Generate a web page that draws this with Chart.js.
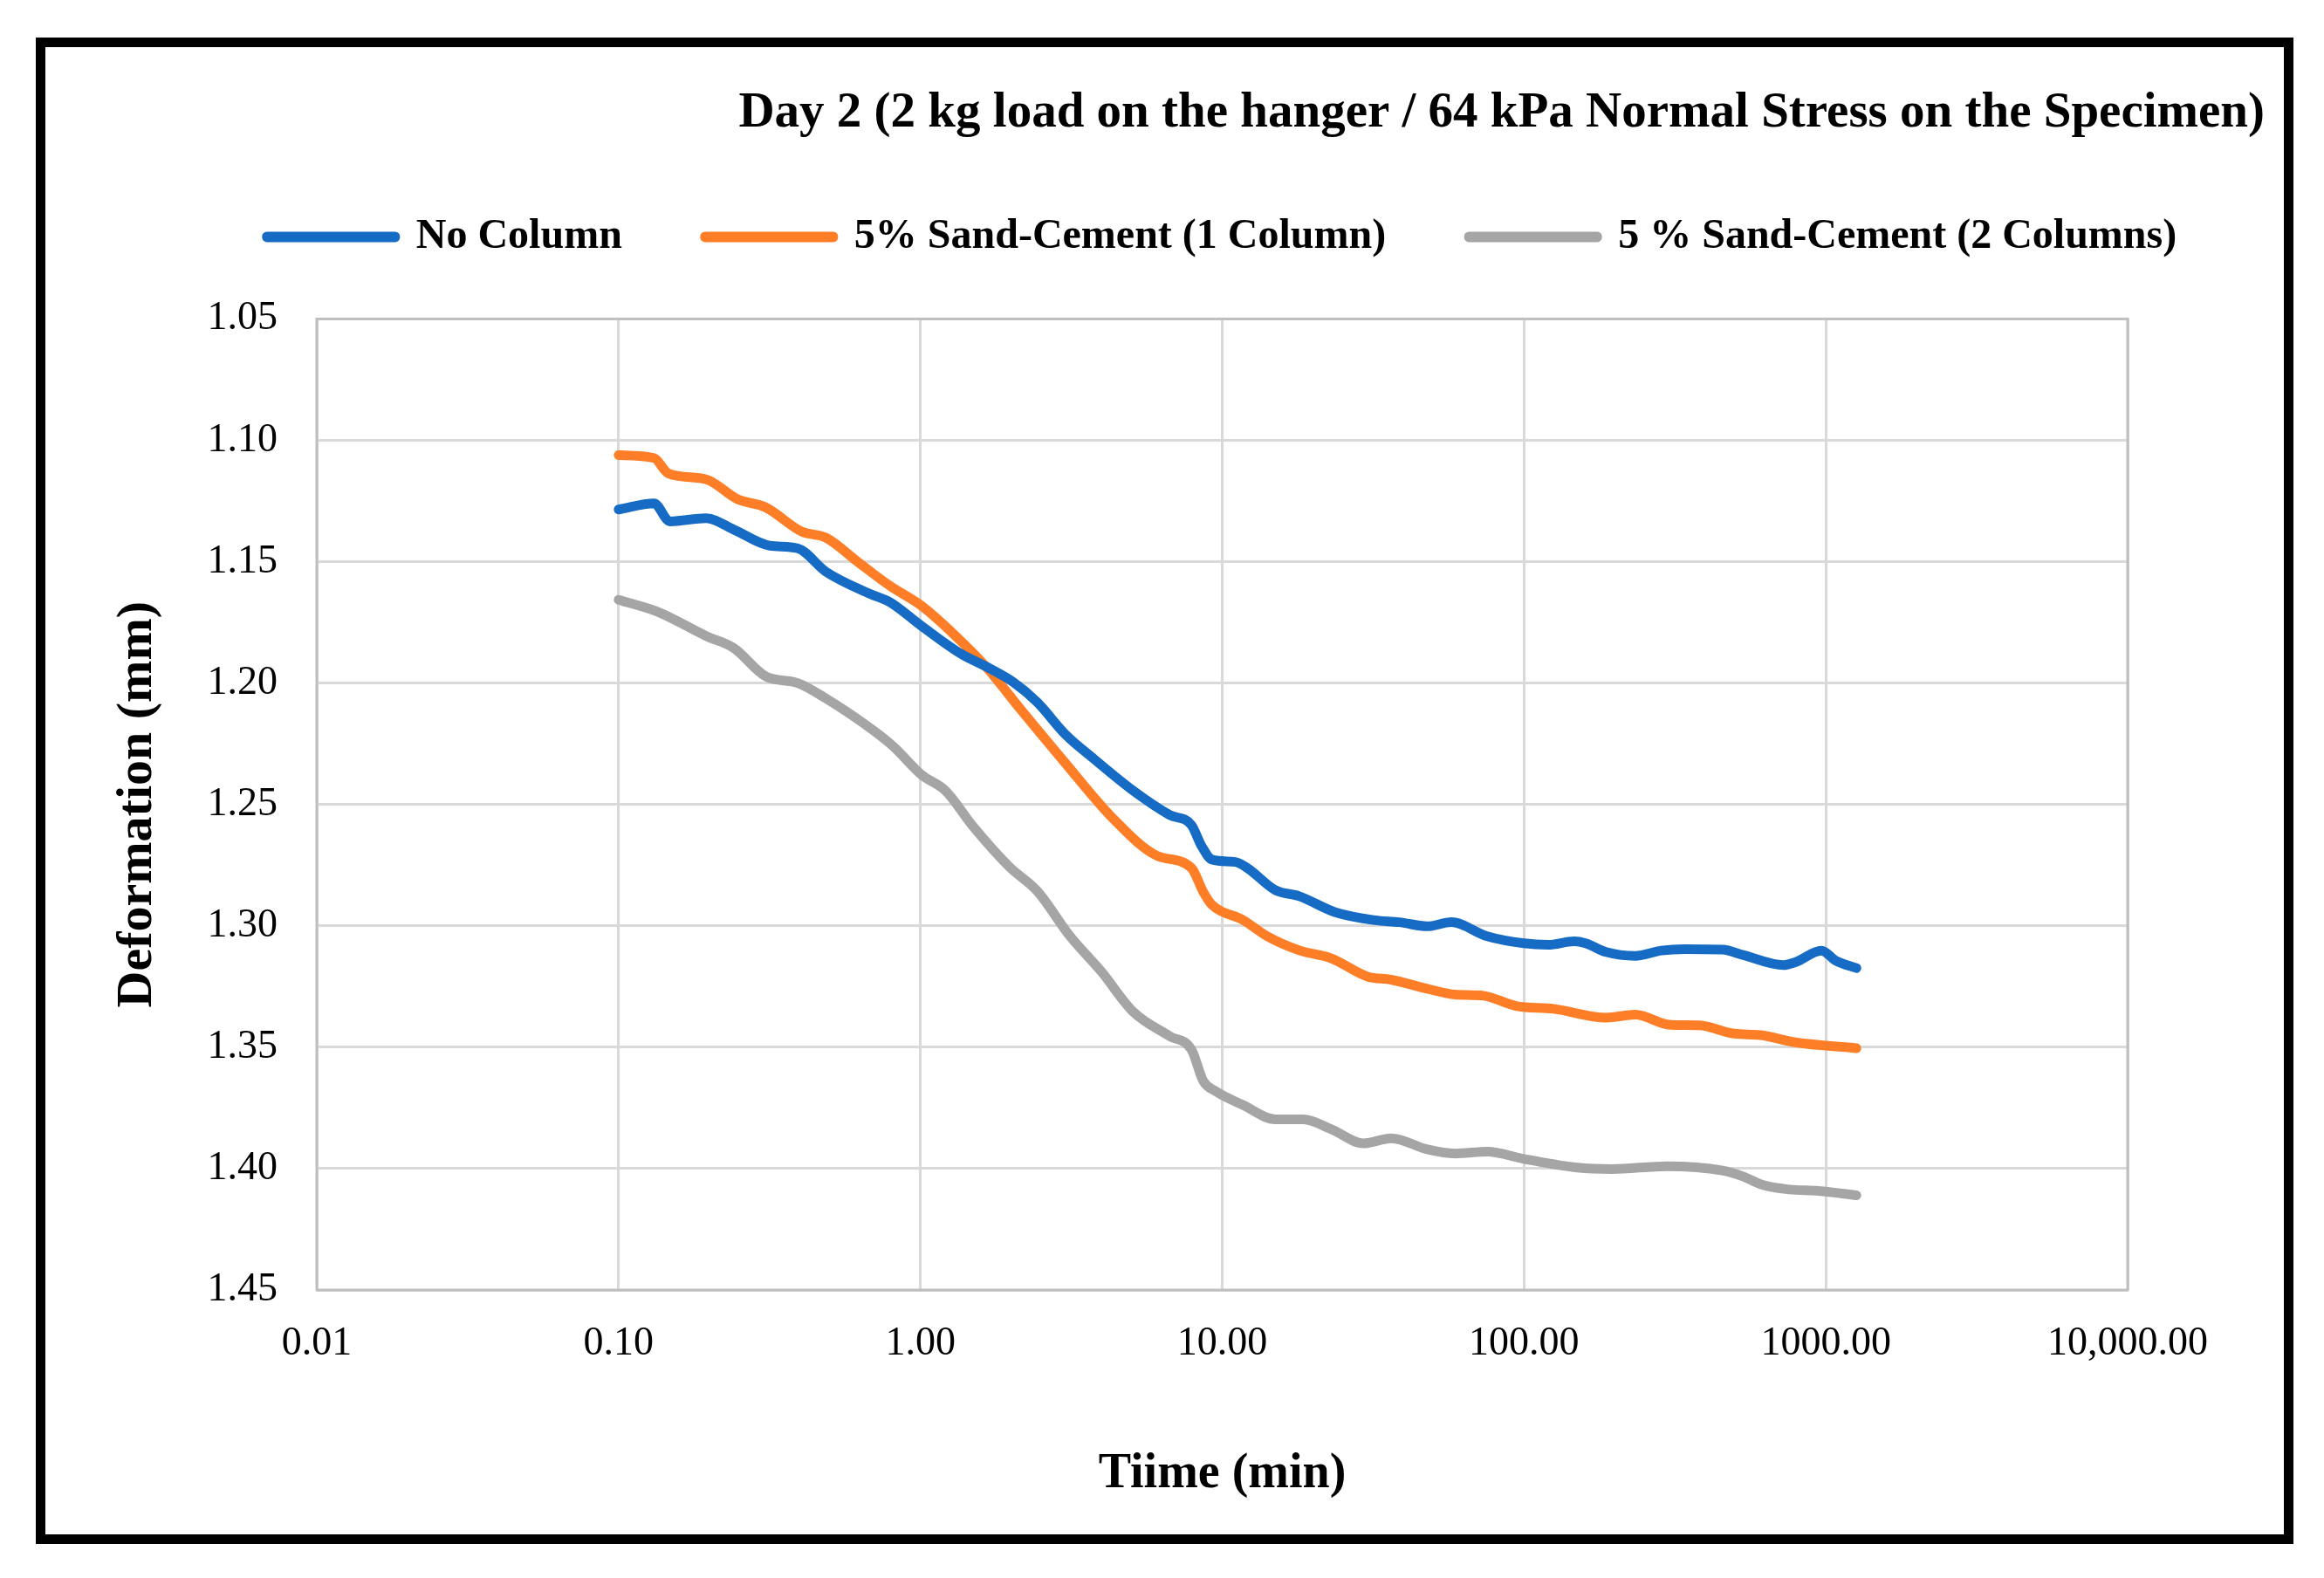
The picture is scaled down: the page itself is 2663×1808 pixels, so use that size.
<!DOCTYPE html>
<html>
<head>
<meta charset="utf-8">
<script src="https://cdn.jsdelivr.net/npm/chart.js@4.4.1/dist/chart.umd.min.js"></script>
<style>
  html, body { margin: 0; padding: 0; background: #fff; }
  #wrap { width: 2663px; height: 1808px; }
</style>
</head>
<body>
<div id="wrap"><canvas id="chart"></canvas></div>
<script>
// Số liệu (thời gian tính bằng phút, biến dạng tính bằng mm)
const noColumnTime = [0.1, 0.131, 0.148, 0.195, 0.241, 0.317, 0.392, 0.486, 0.679, 0.791, 1.009, 1.369, 1.644, 2.035, 2.443, 3.026, 3.746, 5.08, 6.688, 7.91, 8.53, 9.25, 11.06, 12.12, 15.0, 18.0, 23.7, 32.1, 38.6, 47.8, 57.4, 75.5, 100, 120, 146.5, 160, 187, 233.5, 285, 340, 454.5, 531, 724.5, 792, 967, 1081, 1263];
const noColumnDef = [1.1285, 1.1260, 1.1334, 1.1321, 1.1368, 1.1434, 1.1445, 1.1541, 1.1632, 1.1666, 1.1765, 1.1881, 1.1931, 1.1997, 1.2080, 1.2212, 1.2311, 1.2444, 1.2543, 1.2585, 1.2670, 1.2727, 1.2737, 1.2762, 1.2853, 1.2878, 1.2944, 1.2977, 1.2985, 1.3002, 1.2985, 1.3043, 1.3072, 1.3078, 1.3064, 1.3072, 1.3108, 1.3124, 1.3102, 1.3096, 1.3098, 1.3120, 1.3162, 1.3150, 1.3102, 1.3144, 1.3174];

const oneColumnTime = [0.1, 0.131, 0.146, 0.195, 0.248, 0.307, 0.404, 0.486, 0.619, 0.791, 1.009, 1.288, 1.644, 2.163, 2.935, 4.362, 6.05, 7.91, 8.66, 9.21, 11.75, 14.1, 18.0, 23.0, 30.3, 36.3, 47.8, 59.2, 73.3, 94, 125.4, 187, 233.5, 305, 380, 497, 607, 792, 1263];
const oneColumnDef = [1.1061, 1.1073, 1.1136, 1.1161, 1.1243, 1.1276, 1.1376, 1.1401, 1.1500, 1.1599, 1.1682, 1.1798, 1.1931, 1.2113, 1.2311, 1.2560, 1.2710, 1.2762, 1.2861, 1.2911, 1.2977, 1.3043, 1.3101, 1.3134, 1.3209, 1.3222, 1.3259, 1.3283, 1.3288, 1.3330, 1.3342, 1.3378, 1.3366, 1.3408, 1.3410, 1.3444, 1.3450, 1.3480, 1.3504];

const twoColumnTime = [0.1, 0.135, 0.195, 0.241, 0.307, 0.392, 0.486, 0.7, 0.815, 1.009, 1.212, 1.5, 1.974, 2.443, 3.119, 3.98, 5.08, 6.688, 7.91, 8.66, 9.5, 11.75, 15.0, 18.6, 23.0, 29.35, 36.3, 47.8, 59.2, 75.5, 100, 150, 195.4, 298, 454.5, 531, 620, 758, 946, 1263];
const twoColumnDef = [1.1657, 1.1707, 1.1806, 1.1856, 1.1972, 1.2000, 1.2063, 1.2196, 1.2262, 1.2378, 1.2444, 1.2593, 1.2758, 1.2858, 1.3040, 1.3189, 1.3355, 1.3454, 1.3510, 1.3640, 1.3681, 1.3739, 1.3797, 1.3797, 1.3838, 1.3896, 1.3875, 1.3921, 1.3938, 1.3930, 1.3960, 1.3996, 1.4002, 1.3990, 1.4008, 1.4032, 1.4068, 1.4086, 1.4092, 1.4110];

const seriesNames = ['No Column', '5% Sand-Cement (1 Column)', '5 % Sand-Cement (2 Columns)'];
const xTicks = [0.01, 0.1, 1, 10, 100, 1000, 10000];
const xTickLabels = ['0.01', '0.10', '1.00', '10.00', '100.00', '1000.00', '10,000.00'];
const yTicks = [1.05, 1.10, 1.15, 1.20, 1.25, 1.30, 1.35, 1.40, 1.45];
const yTickLabels = ['1.05', '1.10', '1.15', '1.20', '1.25', '1.30', '1.35', '1.40', '1.45'];

const serif = "'Liberation Serif', 'Times New Roman', serif";

function toPoints(times, values) {
    return times.map((t, i) => ({ x: t, y: values[i] }));
}

function lineDataset(label, times, values, color) {
    return {
        label: label,
        data: toPoints(times, values),
        borderColor: color,
        backgroundColor: color,
        borderWidth: 11,
        borderCapStyle: 'round',
        borderJoinStyle: 'round',
        pointRadius: 0,
        cubicInterpolationMode: 'monotone',
        fill: false
    };
}

// trục vô hình chỉ để giữ khoảng trống cố định
function spacerAxis(position, size) {
    return {
        type: 'linear',
        position: position,
        display: true,
        afterFit: (scale) => {
            if (position === 'top') scale.height = size; else scale.width = size;
        },
        ticks: { display: false },
        grid: { display: false, drawTicks: false },
        border: { display: false }
    };
}

// Khung đen bao quanh và viền vùng vẽ
const framePlugin = {
    id: 'frame',
    beforeDatasetsDraw(chart) {
        const { ctx, chartArea } = chart;
        ctx.save();
        ctx.strokeStyle = '#bfbfbf';
        ctx.lineWidth = 3;
        ctx.strokeRect(chartArea.left, chartArea.top, chartArea.right - chartArea.left, chartArea.bottom - chartArea.top);
        ctx.restore();
    },
    afterDraw(chart) {
        const ctx = chart.ctx;
        ctx.save();
        ctx.strokeStyle = '#000';
        ctx.lineWidth = 11;
        ctx.strokeRect(46.5, 48.5, 2576, 1715);
        ctx.restore();
    }
};

new Chart(document.getElementById('chart'), {
    type: 'line',
    data: {
        datasets: [
            lineDataset(seriesNames[0], noColumnTime, noColumnDef, '#166cc4'),
            lineDataset(seriesNames[1], oneColumnTime, oneColumnDef, '#fd7e26'),
            lineDataset(seriesNames[2], twoColumnTime, twoColumnDef, '#a5a5a5')
        ]
    },
    options: {
        responsive: true,
        maintainAspectRatio: false,
        devicePixelRatio: 1,
        animation: false,
        layout: { padding: { top: 0, left: 205, right: 68, bottom: 60 } },
        plugins: {
            title: {
                display: true,
                text: 'Day 2 (2 kg load on the hanger / 64 kPa Normal Stress on the Specimen)',
                align: 'end',
                color: '#000',
                font: { family: serif, size: 57, weight: 'bold', lineHeight: 1.2 },
                padding: { top: 96, bottom: -12 }
            },
            legend: {
                display: true,
                position: 'top',
                labels: {
                    color: '#000',
                    font: { family: serif, size: 48, weight: 'bold' },
                    boxWidth: 147,
                    boxHeight: 1,
                    padding: 95
                }
            },
            tooltip: { enabled: false }
        },
        scales: {
            x: {
                type: 'logarithmic',
                position: 'bottom',
                min: 0.01,
                max: 10000,
                afterBuildTicks: (scale) => {
                    scale.ticks = xTicks.map(v => ({ value: v }));
                },
                afterFit: (scale) => { scale.height = 270; },
                ticks: {
                    autoSkip: false,
                    maxRotation: 0,
                    padding: 34,
                    color: '#000',
                    font: { family: serif, size: 46 },
                    callback: (value, index) => xTickLabels[index]
                },
                grid: { color: '#d9d9d9', lineWidth: 3, drawTicks: false },
                border: { display: false },
                title: {
                    display: true,
                    text: 'Tiime (min)',
                    color: '#000',
                    font: { family: serif, size: 56, weight: 'bold', lineHeight: 1.2 },
                    padding: { top: 0, bottom: 25 }
                }
            },
            y: {
                type: 'linear',
                position: 'left',
                reverse: true,
                min: 1.05,
                max: 1.45,
                afterBuildTicks: (scale) => {
                    scale.ticks = yTicks.map(v => ({ value: v }));
                },
                afterFit: (scale) => { scale.width = 158; },
                ticks: {
                    padding: 45,
                    color: '#000',
                    font: { family: serif, size: 46 },
                    callback: (value, index) => yTickLabels[index]
                },
                grid: { color: '#d9d9d9', lineWidth: 3, drawTicks: false },
                border: { display: false },
                title: {
                    display: true,
                    text: 'Deformation (mm)',
                    color: '#000',
                    font: { family: serif, size: 58, weight: 'bold', lineHeight: 1.2 },
                    padding: { top: -82, bottom: 0 }
                }
            },
            // chừa chỗ bên phải cho tiêu đề và nhãn cuối, và khoảng trống dưới chú giải
            yRight: spacerAxis('right', 157),
            xTop: Object.assign({ axis: 'x' }, spacerAxis('top', 60))
        }
    },
    plugins: [framePlugin]
});
</script>
</body>
</html>
